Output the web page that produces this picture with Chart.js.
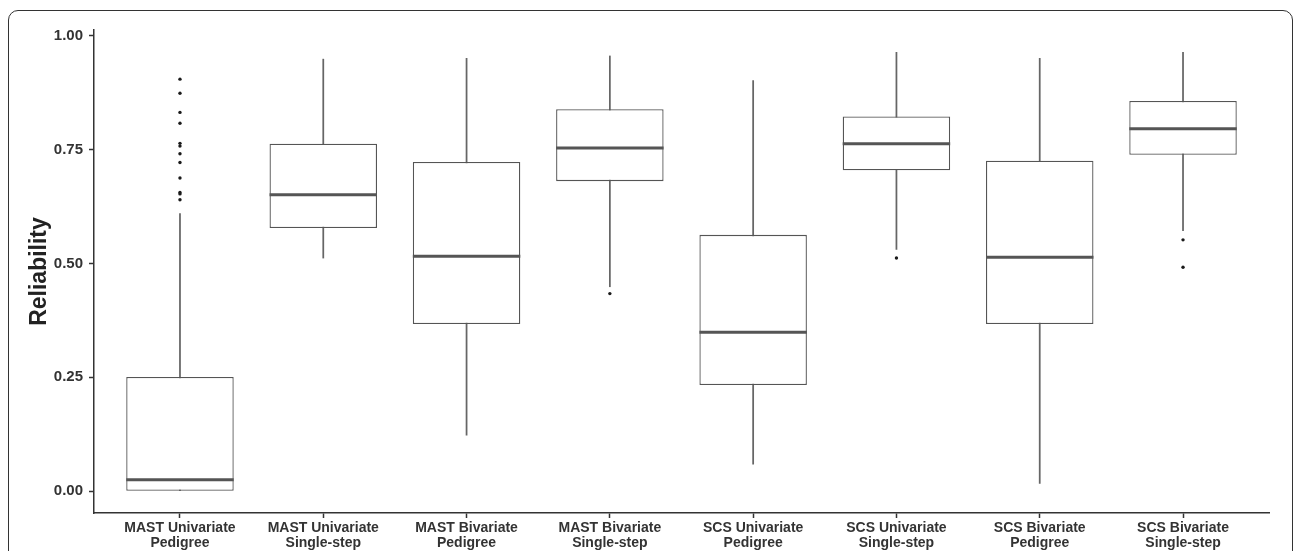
<!DOCTYPE html>
<html>
<head>
<meta charset="utf-8">
<script src="https://cdn.jsdelivr.net/npm/chart.js@4"></script>
<style>
  html, body { margin: 0; padding: 0; background: #fff; overflow: hidden; }
  .frame { position: absolute; left: 8px; top: 10px; width: 1285px; height: 570px; box-sizing: border-box; border: 1.5px solid #333; border-radius: 10px; }
  .wrap { position: absolute; left: 0; top: 0; width: 1294px; height: 551px; }
</style>
</head>
<body>
<div class="frame"></div>
<div class="wrap"><canvas id="chart" width="1294" height="551"></canvas></div>
<script>
// groups on the x axis (two lines each)
let categories = [
    ['MAST Univariate', 'Pedigree'],
    ['MAST Univariate', 'Single-step'],
    ['MAST Bivariate', 'Pedigree'],
    ['MAST Bivariate', 'Single-step'],
    ['SCS Univariate', 'Pedigree'],
    ['SCS Univariate', 'Single-step'],
    ['SCS Bivariate', 'Pedigree'],
    ['SCS Bivariate', 'Single-step']
];

// box plot summaries
let lowerWhisker = [0.000, 0.512, 0.123, 0.449, 0.059, 0.531, 0.017, 0.572];
let q1           = [0.001, 0.578, 0.367, 0.681, 0.233, 0.705, 0.367, 0.739];
let medians      = [0.025, 0.651, 0.516, 0.754, 0.349, 0.763, 0.514, 0.796];
let q3           = [0.251, 0.763, 0.723, 0.839, 0.563, 0.823, 0.726, 0.857];
let upperWhisker = [0.610, 0.949, 0.951, 0.956, 0.902, 0.964, 0.951, 0.964];
let outliers = [
    [0.905, 0.874, 0.832, 0.808, 0.764, 0.758, 0.741, 0.722, 0.688, 0.656, 0.653, 0.640],
    [],
    [],
    [0.434],
    [],
    [0.512],
    [],
    [0.552, 0.492]
];
let yTicks = [0, 0.25, 0.5, 0.75, 1];

const boxFraction = 0.75;
const lineColor = '#555';
const axisColor = '#333';
const font = '"Liberation Sans", Arial, sans-serif';

Chart.defaults.font.family = font;

// flatten outliers into points
let outlierPoints = [];
outliers.forEach((list, i) => list.forEach(v => outlierPoints.push({ x: i, y: v })));

// half width of a box in pixels, from the x scale
let halfBox = ctx => {
    let x = ctx.chart.scales.x;
    return (x.getPixelForValue(1) - x.getPixelForValue(0)) * boxFraction / 2;
};

const myChart = new Chart(document.getElementById('chart'), {
    type: 'bar',
    data: {
        datasets: [
            {
                type: 'line',
                order: 0,
                data: outlierPoints,
                showLine: false,
                pointRadius: 1.7,
                pointBorderWidth: 0,
                pointBackgroundColor: '#1a1a1a'
            },
            {
                type: 'line',
                order: 1,
                data: medians.map((m, i) => ({ x: i, y: m })),
                showLine: false,
                pointStyle: 'line',
                pointRotation: 0,
                pointRadius: halfBox,
                pointBorderWidth: 3,
                pointBorderColor: lineColor
            },
            {
                order: 2,
                data: q1.map((v, i) => ({ x: i, y: [v, q3[i]] })),
                backgroundColor: '#fff',
                borderColor: lineColor,
                borderWidth: 1.3,
                borderSkipped: false,
                grouped: false,
                categoryPercentage: 1,
                barPercentage: boxFraction
            },
            {
                order: 3,
                data: lowerWhisker.map((v, i) => ({ x: i, y: [v, upperWhisker[i]] })),
                backgroundColor: '#666',
                borderWidth: 0,
                grouped: false,
                barThickness: 1.1
            }
        ]
    },
    options: {
        responsive: false,
        animation: false,
        events: [],
        layout: { padding: { top: 30, right: 25, left: 0, bottom: 0 } },
        plugins: { legend: { display: false }, tooltip: { enabled: false } },
        scales: {
            x: {
                type: 'linear',
                min: -0.6,
                max: 7.6,
                offset: false,
                afterBuildTicks: s => { s.ticks = categories.map((c, i) => ({ value: i })); },
                afterFit: s => { s.height = 38; },
                grid: { display: true, drawOnChartArea: false, offset: false, tickLength: 5, tickWidth: 1.5, tickColor: axisColor },
                border: { display: true, color: axisColor, width: 1.5 },
                ticks: {
                    callback: (v, i) => categories[i],
                    font: { size: 14, weight: 'bold', lineHeight: 1.05 },
                    color: axisColor,
                    padding: 3,
                    maxRotation: 0,
                    autoSkip: false
                }
            },
            y: {
                min: -0.048,
                max: 1.013,
                afterBuildTicks: s => { s.ticks = yTicks.map(v => ({ value: v })); },
                afterFit: s => { s.width = 94; },
                grid: { display: true, drawOnChartArea: false, tickLength: 5, tickWidth: 1.5, tickColor: axisColor },
                border: { display: true, color: axisColor, width: 1.5 },
                ticks: {
                    callback: v => v.toFixed(2),
                    font: { size: 15, weight: 'bold' },
                    color: axisColor,
                    padding: 6
                },
                title: {
                    display: true,
                    text: 'Reliability',
                    font: { size: 23, weight: 'bold' },
                    color: '#222',
                    padding: { top: 26, bottom: 0 }
                }
            }
        }
    }
});
</script>
</body>
</html>
